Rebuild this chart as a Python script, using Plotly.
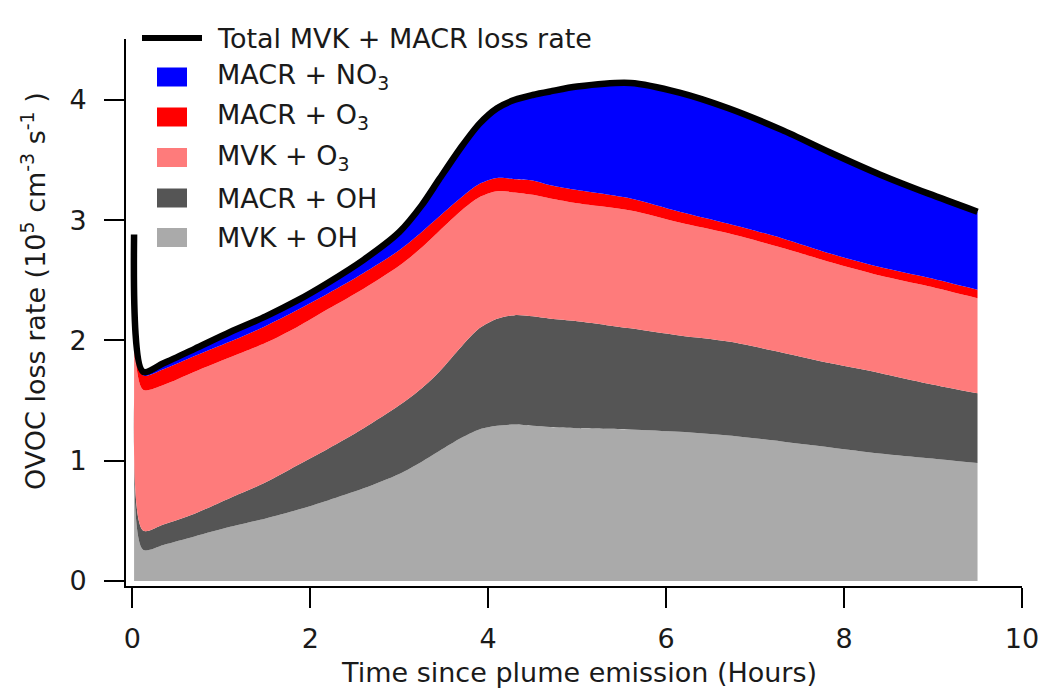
import numpy as np
import plotly.graph_objects as go

# Time since plume emission (hours)
hours = [0.02, 0.12, 0.35, 0.7, 1.1, 1.5, 1.85, 2.2, 2.6, 3.0, 3.25, 3.45, 3.7,
         3.9, 4.1, 4.3, 4.5, 4.7, 5.0, 5.6, 6.15, 6.7, 7.3, 7.85, 8.4, 8.95, 9.5]

# Loss rates per pathway (1e5 cm^-3 s^-1)
mvk_oh = [0.94, 0.26, 0.30, 0.37, 0.45, 0.52, 0.59, 0.67, 0.77, 0.89, 0.99, 1.08, 1.19,
          1.26, 1.29, 1.30, 1.29, 1.28, 1.27, 1.26, 1.24, 1.21, 1.16, 1.11, 1.06, 1.02, 0.98]
macr_oh = [0.59, 0.16, 0.17, 0.19, 0.24, 0.30, 0.37, 0.43, 0.50, 0.57, 0.61, 0.66, 0.76,
           0.84, 0.89, 0.91, 0.91, 0.90, 0.89, 0.84, 0.80, 0.78, 0.74, 0.70, 0.67, 0.62, 0.58]
mvk_o3 = [0.49, 1.17, 1.16, 1.18, 1.17, 1.16, 1.15, 1.16, 1.16, 1.16, 1.17, 1.17, 1.13,
          1.09, 1.06, 1.02, 1.01, 1.00, 0.98, 0.98, 0.94, 0.90, 0.87, 0.84, 0.81, 0.81, 0.79]
macr_o3 = [0.28, 0.12, 0.13, 0.13, 0.13, 0.14, 0.14, 0.13, 0.13, 0.13, 0.13, 0.12, 0.11,
           0.11, 0.11, 0.11, 0.12, 0.11, 0.11, 0.10, 0.09, 0.08, 0.08, 0.07, 0.07, 0.07, 0.07]
macr_no3 = [0.58, 0.03, 0.05, 0.06, 0.08, 0.08, 0.08, 0.09, 0.11, 0.15, 0.22, 0.31, 0.42,
            0.50, 0.58, 0.66, 0.71, 0.78, 0.86, 0.96, 0.99, 0.96, 0.90, 0.84, 0.77, 0.70, 0.65]

x_ticks = [0, 2, 4, 6, 8, 10]
y_ticks = [0, 1, 2, 3, 4]

# Stack order bottom -> top
layers = [
    ("MVK + OH", mvk_oh, "#aaaaaa"),
    ("MACR + OH", macr_oh, "#555555"),
    ("MVK + O<sub>3</sub>", mvk_o3, "#fe7b7b"),
    ("MACR + O<sub>3</sub>", macr_o3, "#ff0000"),
    ("MACR + NO<sub>3</sub>", macr_no3, "#0000ff"),
]
total = np.sum([np.array(v) for _, v, _ in layers], axis=0)

FONT = "DejaVu Sans"
FS = 27
TXT = "#1a1a1a"
W, H = 1043, 688
L, R, T, B = 126, 1022, 39, 586  # plot area in pixels
SMOOTH = 0.8


def px(xp):
    return (xp - L) / (R - L)


def py(yp):
    return (B - yp) / (B - T)


fig = go.Figure()
for name, vals, color in layers:
    fig.add_trace(go.Scatter(
        x=hours, y=vals, name=name, stackgroup="loss", mode="lines",
        line=dict(width=0, shape="spline", smoothing=SMOOTH),
        fillcolor=color, showlegend=False, hoverinfo="skip"))

fig.add_trace(go.Scatter(
    x=hours, y=total, mode="lines", name="Total MVK + MACR loss rate",
    line=dict(color="black", width=6.5, shape="spline", smoothing=SMOOTH),
    showlegend=False))

# Key: line sample plus colour swatches, top to bottom
shapes = [dict(type="line", xref="paper", yref="paper",
               x0=px(142), x1=px(202), y0=py(38), y1=py(38),
               line=dict(color="black", width=6))]
annotations = [dict(text="Total MVK + MACR loss rate", xref="paper", yref="paper",
                    x=px(215), y=py(38), xanchor="left", yanchor="middle",
                    showarrow=False, font=dict(family=FONT, size=FS, color=TXT))]
key_rows = [77, 117, 157.5, 198, 237.5]
for (name, _, color), yc in zip(reversed(layers), key_rows):
    shapes.append(dict(type="rect", xref="paper", yref="paper",
                       x0=px(157), x1=px(187), y0=py(yc + 9.5), y1=py(yc - 9.5),
                       fillcolor=color, line=dict(width=0)))
    annotations.append(dict(text=name, xref="paper", yref="paper",
                            x=px(215), y=py(yc), xanchor="left", yanchor="middle",
                            showarrow=False, font=dict(family=FONT, size=FS, color=TXT)))

# Axis titles
annotations.append(dict(
    text="OVOC loss rate (10<sup>5</sup> cm<sup>-3</sup> s<sup>-1</sup> )",
    xref="paper", yref="paper", x=px(33), y=py(291), textangle=-90,
    xanchor="center", yanchor="middle", showarrow=False,
    font=dict(family=FONT, size=FS, color=TXT)))
annotations.append(dict(
    text="Time since plume emission (Hours)",
    xref="paper", yref="paper", x=px(579), y=py(672),
    xanchor="center", yanchor="middle", showarrow=False,
    font=dict(family=FONT, size=FS, color=TXT)))

x_per_px = 10 / (1022 - 132.3)
y_per_px = 1 / 120.3

axis_common = dict(showgrid=False, zeroline=False, showline=True, linecolor="black",
                   linewidth=2, ticks="outside", ticklen=20, tickwidth=2,
                   tickcolor="black", automargin=False,
                   tickfont=dict(family=FONT, size=FS, color=TXT))

fig.update_layout(
    width=W, height=H,
    margin=dict(l=L, r=W - R, t=T, b=H - B, pad=0, autoexpand=False),
    paper_bgcolor="white", plot_bgcolor="white",
    showlegend=False,
    shapes=shapes, annotations=annotations,
    font=dict(family=FONT, size=FS, color=TXT),
    xaxis=dict(range=[-(132.3 - L) * x_per_px, 10], tickvals=x_ticks,
               ticklabelstandoff=8, **axis_common),
    yaxis=dict(range=[-(B - 581) * y_per_px, (581 - T) * y_per_px], tickvals=y_ticks,
               ticklabelstandoff=12, **axis_common),
)

fig.write_html("out.html")
